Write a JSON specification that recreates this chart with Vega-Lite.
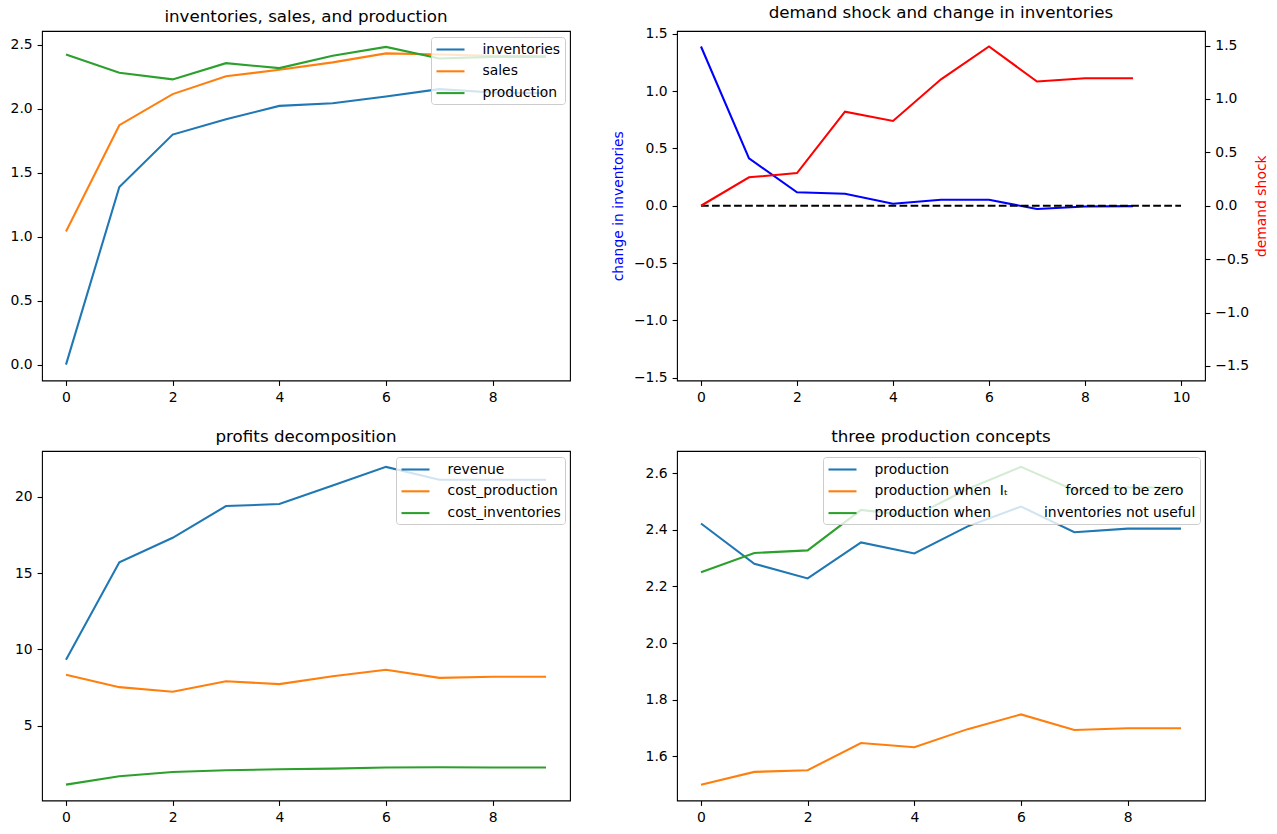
{
  "$schema": "https://vega.github.io/schema/vega-lite/v6.json",
  "padding": {"left": 9, "top": 4, "right": 5, "bottom": 5},
  "autosize": {"type": "pad"},
  "background": "white",
  "config": {
    "font": "DejaVu Sans",
    "view": {"stroke": "black", "strokeWidth": 1.1},
    "axis": {"domain": false, "grid": false, "ticks": true, "tickColor": "black", "tickSize": 4.9, "tickWidth": 1.1, "labelColor": "black", "labelFontSize": 13.9, "labelFont": "DejaVu Sans", "labelPadding": 4.9, "labelFlush": false, "labelOverlap": false, "titleFont": "DejaVu Sans", "titleFontSize": 13.9, "titleFontWeight": "normal"},
    "title": {"font": "DejaVu Sans", "fontSize": 16.7, "fontWeight": "normal", "color": "black", "offset": 5, "anchor": "middle"},
    "legend": {"orient": "top-right", "offset": 5.5, "padding": 4, "fillColor": "rgba(255,255,255,0.8)", "strokeColor": "#cccccc", "strokeWidth": 1, "cornerRadius": 3, "symbolType": "M-2,0H2", "symbolSize": 196, "symbolStrokeWidth": 2.08, "symbolOffset": 7, "labelOffset": 23.5, "labelFontSize": 13.9, "labelFont": "DejaVu Sans", "labelColor": "black", "rowPadding": 5.8, "labelLimit": 500},
    "line": {"strokeWidth": 2.08}
  },
  "columns": 2,
  "spacing": {"row": 70, "column": 107},
  "bounds": "flush",
  "resolve": {"scale": {"color": "independent", "x": "independent", "y": "independent"}, "legend": {"color": "independent"}, "axis": {"x": "independent", "y": "independent"}},
  "datasets": {
    "p1": [
      {"t": 0, "s": "inventories", "v": 0.0}, {"t": 1, "s": "inventories", "v": 1.388}, {"t": 2, "s": "inventories", "v": 1.797}, {"t": 3, "s": "inventories", "v": 1.917}, {"t": 4, "s": "inventories", "v": 2.021}, {"t": 5, "s": "inventories", "v": 2.042}, {"t": 6, "s": "inventories", "v": 2.094}, {"t": 7, "s": "inventories", "v": 2.152}, {"t": 8, "s": "inventories", "v": 2.125}, {"t": 9, "s": "inventories", "v": 2.12},
      {"t": 0, "s": "sales", "v": 1.04}, {"t": 1, "s": "sales", "v": 1.87}, {"t": 2, "s": "sales", "v": 2.113}, {"t": 3, "s": "sales", "v": 2.252}, {"t": 4, "s": "sales", "v": 2.303}, {"t": 5, "s": "sales", "v": 2.361}, {"t": 6, "s": "sales", "v": 2.431}, {"t": 7, "s": "sales", "v": 2.422}, {"t": 8, "s": "sales", "v": 2.412}, {"t": 9, "s": "sales", "v": 2.41},
      {"t": 0, "s": "production", "v": 2.422}, {"t": 1, "s": "production", "v": 2.28}, {"t": 2, "s": "production", "v": 2.228}, {"t": 3, "s": "production", "v": 2.355}, {"t": 4, "s": "production", "v": 2.316}, {"t": 5, "s": "production", "v": 2.412}, {"t": 6, "s": "production", "v": 2.482}, {"t": 7, "s": "production", "v": 2.391}, {"t": 8, "s": "production", "v": 2.404}, {"t": 9, "s": "production", "v": 2.404}
    ],
    "p2": [
      {"t": 0, "dinv": 1.39, "shock": 0.0}, {"t": 1, "dinv": 0.414, "shock": 0.266}, {"t": 2, "dinv": 0.117, "shock": 0.306}, {"t": 3, "dinv": 0.105, "shock": 0.881}, {"t": 4, "dinv": 0.017, "shock": 0.794}, {"t": 5, "dinv": 0.052, "shock": 1.184}, {"t": 6, "dinv": 0.052, "shock": 1.491}, {"t": 7, "dinv": -0.029, "shock": 1.163}, {"t": 8, "dinv": -0.006, "shock": 1.194}, {"t": 9, "dinv": -0.003, "shock": 1.194}
    ],
    "p2zero": [
      {"t": 0, "z": 0}, {"t": 10, "z": 0}
    ],
    "p3": [
      {"t": 0, "s": "revenue", "v": 9.32}, {"t": 1, "s": "revenue", "v": 15.71}, {"t": 2, "s": "revenue", "v": 17.32}, {"t": 3, "s": "revenue", "v": 19.4}, {"t": 4, "s": "revenue", "v": 19.53}, {"t": 5, "s": "revenue", "v": 20.75}, {"t": 6, "s": "revenue", "v": 21.97}, {"t": 7, "s": "revenue", "v": 21.12}, {"t": 8, "s": "revenue", "v": 21.12}, {"t": 9, "s": "revenue", "v": 21.12},
      {"t": 0, "s": "cost_production", "v": 8.34}, {"t": 1, "s": "cost_production", "v": 7.53}, {"t": 2, "s": "cost_production", "v": 7.23}, {"t": 3, "s": "cost_production", "v": 7.92}, {"t": 4, "s": "cost_production", "v": 7.73}, {"t": 5, "s": "cost_production", "v": 8.25}, {"t": 6, "s": "cost_production", "v": 8.67}, {"t": 7, "s": "cost_production", "v": 8.14}, {"t": 8, "s": "cost_production", "v": 8.21}, {"t": 9, "s": "cost_production", "v": 8.21},
      {"t": 0, "s": "cost_inventories", "v": 1.14}, {"t": 1, "s": "cost_inventories", "v": 1.69}, {"t": 2, "s": "cost_inventories", "v": 1.97}, {"t": 3, "s": "cost_inventories", "v": 2.08}, {"t": 4, "s": "cost_inventories", "v": 2.15}, {"t": 5, "s": "cost_inventories", "v": 2.19}, {"t": 6, "s": "cost_inventories", "v": 2.26}, {"t": 7, "s": "cost_inventories", "v": 2.28}, {"t": 8, "s": "cost_inventories", "v": 2.26}, {"t": 9, "s": "cost_inventories", "v": 2.26}
    ],
    "p4": [
      {"t": 0, "s": "production", "v": 2.422}, {"t": 1, "s": "production", "v": 2.28}, {"t": 2, "s": "production", "v": 2.228}, {"t": 3, "s": "production", "v": 2.355}, {"t": 4, "s": "production", "v": 2.316}, {"t": 5, "s": "production", "v": 2.412}, {"t": 6, "s": "production", "v": 2.482}, {"t": 7, "s": "production", "v": 2.391}, {"t": 8, "s": "production", "v": 2.404}, {"t": 9, "s": "production", "v": 2.404},
      {"t": 0, "s": "zero", "v": 1.5}, {"t": 1, "s": "zero", "v": 1.545}, {"t": 2, "s": "zero", "v": 1.551}, {"t": 3, "s": "zero", "v": 1.647}, {"t": 4, "s": "zero", "v": 1.632}, {"t": 5, "s": "zero", "v": 1.696}, {"t": 6, "s": "zero", "v": 1.748}, {"t": 7, "s": "zero", "v": 1.693}, {"t": 8, "s": "zero", "v": 1.699}, {"t": 9, "s": "zero", "v": 1.699},
      {"t": 0, "s": "notuseful", "v": 2.25}, {"t": 1, "s": "notuseful", "v": 2.318}, {"t": 2, "s": "notuseful", "v": 2.327}, {"t": 3, "s": "notuseful", "v": 2.47}, {"t": 4, "s": "notuseful", "v": 2.448}, {"t": 5, "s": "notuseful", "v": 2.544}, {"t": 6, "s": "notuseful", "v": 2.622}, {"t": 7, "s": "notuseful", "v": 2.54}, {"t": 8, "s": "notuseful", "v": 2.549}, {"t": 9, "s": "notuseful", "v": 2.549}
    ]
  },
  "concat": [
    {
      "title": "inventories, sales, and production",
      "width": 528, "height": 349.5,
      "data": {"name": "p1"},
      "mark": {"type": "line", "strokeWidth": 2.08},
      "encoding": {
        "x": {"field": "t", "type": "quantitative", "title": null, "scale": {"domain": [-0.45, 9.45], "nice": false, "zero": false}, "axis": {"values": [0, 2, 4, 6, 8], "format": "d"}},
        "y": {"field": "v", "type": "quantitative", "title": null, "scale": {"domain": [-0.124, 2.606], "nice": false, "zero": false}, "axis": {"values": [0, 0.5, 1, 1.5, 2, 2.5], "format": ".1f"}},
        "color": {"field": "s", "type": "nominal", "scale": {"domain": ["inventories", "sales", "production"], "range": ["#1f77b4", "#ff7f0e", "#2ca02c"]}, "legend": {"title": null, "orient": "top-right"}}
      }
    },
    {
      "title": "demand shock and change in inventories",
      "width": 528, "height": 349.5,
      "layer": [
        {
          "data": {"name": "p2"},
          "mark": {"type": "line", "color": "#0000ff", "strokeWidth": 2.08},
          "encoding": {
            "x": {"field": "t", "type": "quantitative", "title": null, "scale": {"domain": [-0.5, 10.5], "nice": false, "zero": false}, "axis": {"values": [0, 2, 4, 6, 8, 10], "format": "d"}},
            "y": {"field": "dinv", "type": "quantitative", "scale": {"domain": [-1.525, 1.525], "nice": false, "zero": false}, "axis": {"orient": "left", "values": [-1.5, -1, -0.5, 0, 0.5, 1, 1.5], "format": ".1f", "title": "change in inventories", "titleColor": "#0000ff", "titlePadding": 7.5}}
          }
        },
        {
          "data": {"name": "p2zero"},
          "mark": {"type": "line", "color": "black", "strokeWidth": 2.08, "strokeDash": [7.7, 3.33]},
          "encoding": {
            "x": {"field": "t", "type": "quantitative", "title": null, "scale": {"domain": [-0.5, 10.5], "nice": false, "zero": false}, "axis": {"values": [0, 2, 4, 6, 8, 10], "format": "d"}},
            "y": {"field": "z", "type": "quantitative", "scale": {"domain": [-1.525, 1.525], "nice": false, "zero": false}, "axis": null}
          }
        },
        {
          "data": {"name": "p2"},
          "mark": {"type": "line", "color": "#ff0000", "strokeWidth": 2.08},
          "encoding": {
            "x": {"field": "t", "type": "quantitative", "title": null, "scale": {"domain": [-0.5, 10.5], "nice": false, "zero": false}, "axis": {"values": [0, 2, 4, 6, 8, 10], "format": "d"}},
            "y": {"field": "shock", "type": "quantitative", "scale": {"domain": [-1.636, 1.636], "nice": false, "zero": false}, "axis": {"orient": "right", "values": [-1.5, -1, -0.5, 0, 0.5, 1, 1.5], "format": ".1f", "title": "demand shock", "titleColor": "#ff0000", "titleAngle": 270, "titleBaseline": "top", "titlePadding": 6}}
          }
        }
      ],
      "resolve": {"scale": {"y": "independent"}}
    },
    {
      "title": "profits decomposition",
      "width": 528, "height": 349.5,
      "data": {"name": "p3"},
      "mark": {"type": "line", "strokeWidth": 2.08},
      "encoding": {
        "x": {"field": "t", "type": "quantitative", "title": null, "scale": {"domain": [-0.45, 9.45], "nice": false, "zero": false}, "axis": {"values": [0, 2, 4, 6, 8], "format": "d"}},
        "y": {"field": "v", "type": "quantitative", "title": null, "scale": {"domain": [0.1, 23.01], "nice": false, "zero": false}, "axis": {"values": [5, 10, 15, 20], "format": "d"}},
        "color": {"field": "s", "type": "nominal", "scale": {"domain": ["revenue", "cost_production", "cost_inventories"], "range": ["#1f77b4", "#ff7f0e", "#2ca02c"]}, "legend": {"title": null, "orient": "top-right"}}
      }
    },
    {
      "title": "three production concepts",
      "width": 528, "height": 349.5,
      "data": {"name": "p4"},
      "mark": {"type": "line", "strokeWidth": 2.08},
      "encoding": {
        "x": {"field": "t", "type": "quantitative", "title": null, "scale": {"domain": [-0.45, 9.45], "nice": false, "zero": false}, "axis": {"values": [0, 2, 4, 6, 8], "format": "d"}},
        "y": {"field": "v", "type": "quantitative", "title": null, "scale": {"domain": [1.444, 2.678], "nice": false, "zero": false}, "axis": {"values": [1.6, 1.8, 2.0, 2.2, 2.4, 2.6], "format": ".1f"}},
        "color": {"field": "s", "type": "nominal", "scale": {"domain": ["production", "zero", "notuseful"], "range": ["#1f77b4", "#ff7f0e", "#2ca02c"]}, "legend": {"title": null, "orient": "top-right", "labelExpr": "datum.value === 'zero' ? 'production when\u00a0\u00a0I\u209c\u00a0\u00a0\u00a0\u00a0\u00a0\u00a0\u00a0\u00a0\u00a0\u00a0\u00a0\u00a0\u00a0forced to be zero' : datum.value === 'notuseful' ? 'production when\u00a0\u00a0\u00a0\u00a0\u00a0\u00a0\u00a0\u00a0\u00a0\u00a0\u00a0\u00a0inventories not useful' : 'production'"}}
      }
    }
  ]
}
